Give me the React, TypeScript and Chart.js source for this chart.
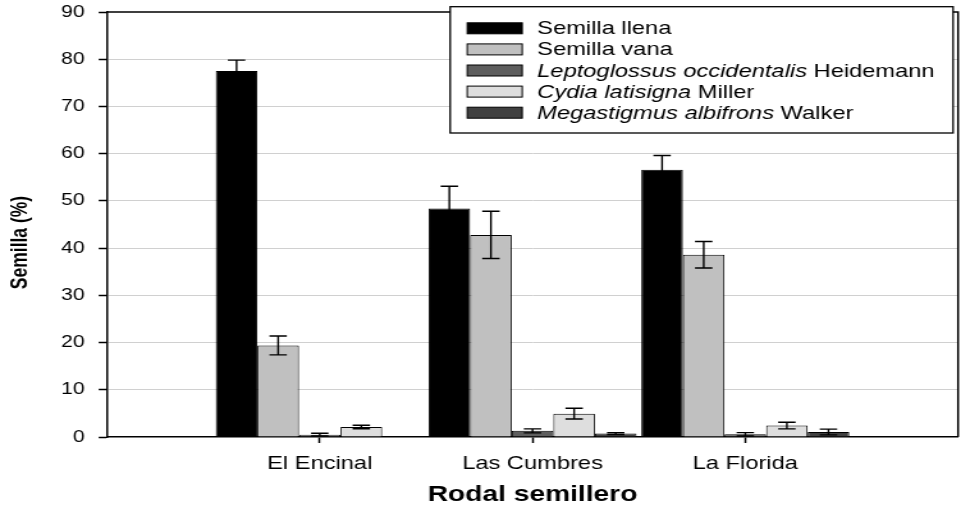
import React, { useEffect, useRef } from 'react';
import { Chart, registerables } from 'chart.js';

Chart.register(...registerables);

// ---------- data ----------
const categories = ['El Encinal', 'Las Cumbres', 'La Florida'];

const semillaLlena = [77.5, 48.4, 56.6];
const semillaLlenaErr = [2.3, 4.7, 3.0];
const semillaVana = [19.4, 42.8, 38.6];
const semillaVanaErr = [2.0, 5.0, 2.8];
const leptoglossus = [0.5, 1.3, 0.57];
const leptoglossusErr = [0.3, 0.43, 0.35];
const cydia = [2.12, 4.95, 2.42];
const cydiaErr = [0.38, 1.13, 0.7];
const megastigmus = [0, 0.72, 1.06];
const megastigmusErr = [0, 0.2, 0.6];

// legend labels: parts with italic flag
const legendLabels = [
  [{ text: 'Semilla llena', italic: false }],
  [{ text: 'Semilla vana', italic: false }],
  [{ text: 'Leptoglossus occidentalis', italic: true }, { text: ' Heidemann', italic: false }],
  [{ text: 'Cydia latisigna', italic: true }, { text: ' Miller', italic: false }],
  [{ text: 'Megastigmus albifrons', italic: true }, { text: ' Walker', italic: false }],
];

const yTitle = 'Semilla (%)';
const xTitle = 'Rodal semillero';

const seriesValues = [semillaLlena, semillaVana, leptoglossus, cydia, megastigmus];
const seriesErrors = [semillaLlenaErr, semillaVanaErr, leptoglossusErr, cydiaErr, megastigmusErr];
const seriesColors = ['#000000', '#c0c0c0', '#5e5e5e', '#dedede', '#404040'];

const yMin = 0;
const yMax = 90;
const yStep = 10;

// ---------- layout ----------
const FONT = '"Liberation Sans", Arial, Helvetica, sans-serif';
const SCREEN_W = 961;
const SCREEN_H = 508;
const STRETCH = 1.28;
const CANVAS_W = Math.round(SCREEN_W / STRETCH);

const errorBarPlugin = {
  id: 'errorBars',
  afterDatasetsDraw(chart: any) {
    const { ctx } = chart;
    const yScale = chart.scales.y;
    ctx.save();
    ctx.strokeStyle = '#000';
    ctx.lineWidth = 1.4;
    chart.data.datasets.forEach((ds: any, di: number) => {
      const meta = chart.getDatasetMeta(di);
      meta.data.forEach((bar: any, i: number) => {
        const e = ds.errors[i];
        if (!e) return;
        const v = ds.data[i].y;
        const yTop = yScale.getPixelForValue(v + e);
        const yBot = yScale.getPixelForValue(v - e);
        const x = bar.x;
        const cap = 6.8;
        ctx.beginPath();
        ctx.moveTo(x, yTop);
        ctx.lineTo(x, yBot);
        ctx.moveTo(x - cap, yTop);
        ctx.lineTo(x + cap, yTop);
        ctx.moveTo(x - cap, yBot);
        ctx.lineTo(x + cap, yBot);
        ctx.stroke();
      });
    });
    ctx.restore();
  },
};

const frameLegendPlugin = {
  id: 'frameLegend',
  afterDraw(chart: any) {
    const { ctx, chartArea } = chart;
    ctx.save();
    // frame top & right
    ctx.strokeStyle = '#000';
    ctx.lineWidth = 1.5;
    ctx.beginPath();
    ctx.moveTo(chartArea.left, chartArea.top);
    ctx.lineTo(chartArea.right, chartArea.top);
    ctx.lineTo(chartArea.right, chartArea.bottom);
    ctx.stroke();

    // y-axis title (rotated)
    ctx.save();
    ctx.translate(16.3, (chartArea.top + chartArea.bottom) / 2 + 18);
    ctx.rotate(-Math.PI / 2);
    ctx.font = `bold 17.5px ${FONT}`;
    ctx.fillStyle = '#000';
    ctx.textAlign = 'center';
    ctx.textBaseline = 'middle';
    ctx.fillText(yTitle, 0, 0);
    ctx.restore();

    // legend box
    const right = chartArea.right - 3.9;
    const left = right - 393;
    const top = chartArea.top - 5.3;
    const bottom = top + 126.3;
    ctx.fillStyle = '#fff';
    ctx.fillRect(left, top, right - left, bottom - top);
    ctx.strokeStyle = '#000';
    ctx.lineWidth = 1.3;
    ctx.strokeRect(left, top, right - left, bottom - top);

    const fontSize = 18.5;
    legendLabels.forEach((parts, i) => {
      const cy = top + 21.6 + i * 21.1;
      const sx = left + 13.3;
      const sw = 43;
      const sh = 11;
      ctx.fillStyle = seriesColors[i];
      ctx.fillRect(sx, cy - sh / 2, sw, sh);
      ctx.strokeStyle = '#000';
      ctx.lineWidth = 1;
      ctx.strokeRect(sx, cy - sh / 2, sw, sh);
      let tx = left + 68;
      ctx.fillStyle = '#000';
      ctx.textBaseline = 'middle';
      ctx.textAlign = 'left';
      parts.forEach((p) => {
        ctx.font = `${p.italic ? 'italic ' : ''}${fontSize}px ${FONT}`;
        ctx.fillText(p.text, tx, cy + 1);
        tx += ctx.measureText(p.text).width;
      });
    });
    ctx.restore();
  },
};

export default function App() {
  const canvasRef = useRef<HTMLCanvasElement | null>(null);

  useEffect(() => {
    const canvas = canvasRef.current;
    if (!canvas) return;
    const datasets = seriesValues.map((vals, si) => ({
      label: legendLabels[si].map((p) => p.text).join(''),
      data: vals.map((v, i) => ({ x: i + 1, y: v })),
      errors: seriesErrors[si],
      backgroundColor: seriesColors[si],
      borderColor: '#000',
      borderWidth: 1,
      categoryPercentage: 0.9775,
      barPercentage: 1,
    }));

    const chart = new Chart(canvas, {
      type: 'bar',
      data: { datasets } as any,
      options: {
        responsive: false,
        animation: false,
        devicePixelRatio: 1,
        layout: { padding: { left: 0, right: CANVAS_W - 748.7, top: 12, bottom: 0 } },
        plugins: {
          legend: { display: false },
          tooltip: { enabled: false },
        },
        scales: {
          x: {
            type: 'linear',
            offset: false,
            min: 0,
            max: categories.length + 1,
            afterBuildTicks: (s: any) => {
              s.ticks = categories.map((_, i) => ({ value: i + 1 }));
            },
            afterFit: (s: any) => {
              s.height = SCREEN_H - 437;
              s.paddingLeft = 0;
              s.paddingRight = 0;
            },
            ticks: {
              autoSkip: false,
              maxRotation: 0,
              padding: 10,
              color: '#000',
              font: { family: FONT, size: 18.5 },
              callback: (v: any) => categories[Number(v) - 1] ?? '',
            },
            grid: {
              offset: false,
              drawOnChartArea: false,
              tickLength: 6,
              tickColor: '#000',
              tickWidth: 1.5,
            },
            border: { color: '#000', width: 1.5 },
            title: {
              display: true,
              text: xTitle,
              color: '#000',
              font: { family: FONT, size: 22, weight: 'bold' },
              padding: { top: 0, bottom: 0 },
            },
          },
          y: {
            min: yMin,
            max: yMax,
            afterFit: (s: any) => {
              s.width = 83.6;
              s.paddingTop = 0;
              s.paddingBottom = 0;
            },
            ticks: {
              stepSize: yStep,
              padding: 11,
              color: '#000',
              font: { family: FONT, size: 16.5 },
            },
            grid: {
              color: (c: any) =>
                c.tick && (c.tick.value === yMin || c.tick.value === yMax) ? 'rgba(0,0,0,0)' : '#d0d0d0',
              lineWidth: 1,
              tickColor: '#000',
              tickLength: 6.5,
              tickWidth: 1.5,
            },
            border: { color: '#000', width: 1.5 },
            title: { display: false },
          },
        },
      } as any,
      plugins: [errorBarPlugin, frameLegendPlugin],
    });
    return () => chart.destroy();
  }, []);

  return (
    <div style={{ position: 'fixed', left: 0, top: 0, width: SCREEN_W, height: SCREEN_H, background: '#fff' }}>
      <canvas
        ref={canvasRef}
        width={CANVAS_W}
        height={SCREEN_H}
        style={{ width: `${SCREEN_W}px`, height: `${SCREEN_H}px`, display: 'block' }}
      />
    </div>
  );
}
